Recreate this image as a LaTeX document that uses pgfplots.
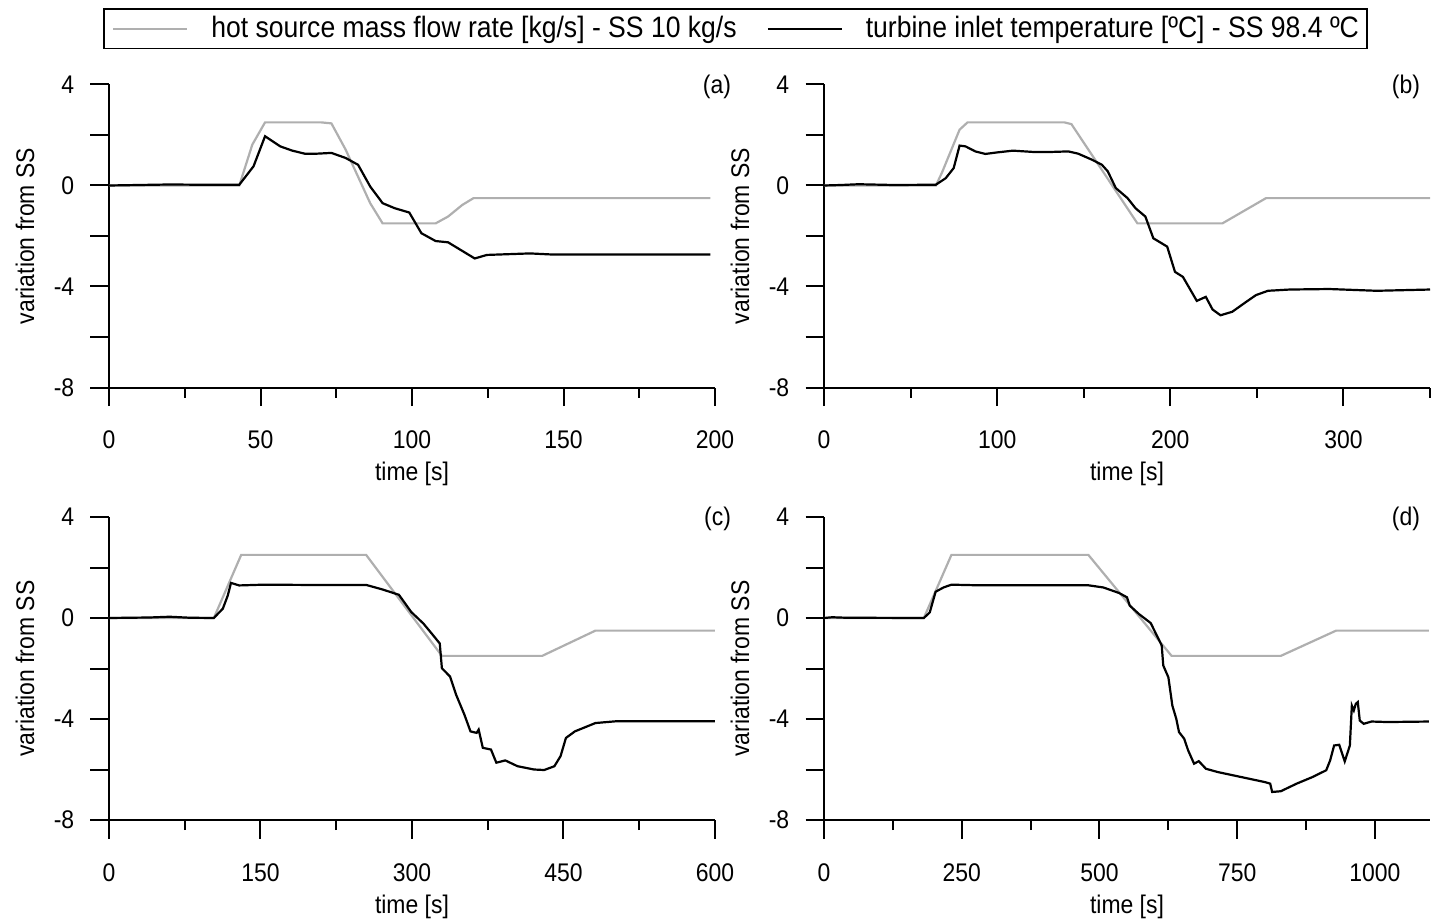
\documentclass[border=0pt]{standalone}
\usepackage{fontspec}
\setmainfont{Liberation Sans}[FakeStretch=0.9]
\usepackage{pgfplots}
\pgfplotsset{compat=1.18}
\definecolor{lgray}{RGB}{175,175,175}
\pgfplotsset{
  panel/.style={
    scale only axis, width=303pt, height=151.5pt,
    axis lines=left, axis line style={-, line width=1pt, black},
    tick align=outside, major tick length=9.25pt, minor tick length=5pt,
    every tick/.style={line width=1pt, black},
    ymin=-8, ymax=4, ytick={-8,-6,...,4}, yticklabels={-8,,-4,,0,,4},
    /pgf/number format/assume math mode=true,
    /pgf/number format/1000 sep={},
    tick label style={font=\fontsize{12.75}{14}\selectfont},
    xticklabel style={yshift=-9pt},
    yticklabel style={xshift=-4.6pt},
    label style={font=\fontsize{12.75}{14}\selectfont},
    xlabel={time [s]}, ylabel={variation from SS},
    xlabel style={at={(axis description cs:0.5,0)}, anchor=base, yshift=-46.5pt},
    ylabel style={at={(axis description cs:-0.1235,0.5)}, anchor=base},
    clip=false,
  },
  gline/.style={lgray, line width=1.1pt},
  bline/.style={black, line width=1.1pt},
}
\newcommand{\plab}[2]{\node[anchor=east, font=\fontsize{12.75}{14}\selectfont] at ([xshift=#2, yshift=-1pt]rel axis cs:1,1) {#1};}
\begin{document}
\begin{tikzpicture}
\path[use as bounding box] (0,0) rectangle (716.5pt,-459.5pt);
% (a)
\begin{axis}[panel, at={(54.5pt,-193.75pt)}, anchor=south west,
  xmin=0, xmax=200, xtick={0,50,...,200}, minor xtick={25,75,125,175},
  legend columns=2,
  legend image code/.code={\draw[#1] (0pt,0pt) -- (37pt,0pt);},
  legend style={at={(axis description cs:1.0339,1.1838)}, anchor=center,
    draw=black, line width=0.8pt, font=\fontsize{14.75}{16}\selectfont,
    inner xsep=4pt, inner ysep=3.8pt, nodes={inner sep=0pt},
    /tikz/every odd column/.append style={column sep=11.5pt},
    /tikz/every even column/.append style={column sep=15pt}},
]
\addplot[gline] coordinates {(0,0) (43,0) (47.3,1.62) (51.5,2.5) (70,2.5) (73.4,2.46) (78.1,1.42) (86.2,-0.7) (90.3,-1.5) (107.8,-1.5) (111.9,-1.23) (116.6,-0.77) (120.3,-0.5) (198.5,-0.5)};
\addlegendentry{hot source mass flow rate [kg/s] - SS 10 kg/s}
\addplot[bline] coordinates {(0,0) (10,0.02) (20,0.04) (30,0.03) (43,0.03) (47.7,0.76) (51.5,1.95) (56.5,1.55) (60.5,1.38) (64.6,1.26) (68.6,1.26) (73.4,1.29) (78.1,1.09) (82.2,0.82) (86.2,-0.04) (90.3,-0.7) (94.3,-0.9) (99.1,-1.07) (103.1,-1.89) (107.8,-2.2) (111.9,-2.25) (120.7,-2.89) (124.7,-2.75) (138.9,-2.69) (145.7,-2.73) (198.5,-2.73)};
\addlegendentry{turbine inlet temperature [ºC] - SS 98.4 ºC}
\plab{(a)}{11.5pt}
\end{axis}
% (b)
\begin{axis}[panel, at={(412pt,-193.75pt)}, anchor=south west,
  xmin=0, xmax=350, xtick={0,100,200,300}, minor xtick={50,150,250,350}]
\addplot[gline] coordinates {(0,0) (64.6,0) (68,0.49) (78.3,2.21) (82.9,2.5) (138.8,2.5) (142.9,2.43) (181,-1.5) (230.1,-1.5) (255.3,-0.5) (350,-0.5)};
\addplot[bline] coordinates {(0,0) (10,0.02) (20,0.05) (40,0.02) (64.6,0.03) (70.3,0.29) (74.9,0.69) (78.3,1.58) (81.7,1.55) (87.4,1.35) (93.2,1.25) (100,1.31) (109.1,1.38) (120.5,1.33) (132,1.33) (141.1,1.35) (146.8,1.26) (154.8,1.02) (160.5,0.82) (163.9,0.56) (168.5,-0.1) (175.3,-0.5) (179.9,-0.9) (185.6,-1.23) (190.2,-2.09) (198.2,-2.42) (202.7,-3.42) (207.3,-3.62) (215.3,-4.57) (220.5,-4.41) (224.4,-4.91) (229,-5.14) (235.8,-5.0) (243.8,-4.61) (249.5,-4.34) (256.4,-4.17) (269,-4.12) (291.8,-4.1) (319.2,-4.17) (350,-4.12)};
\plab{(b)}{-1.5pt}
\end{axis}
% (c)
\begin{axis}[panel, at={(54.5pt,-410pt)}, anchor=south west,
  xmin=0, xmax=600, xtick={0,150,...,600}, minor xtick={75,225,375,525}]
\addplot[gline] coordinates {(0,0) (103.8,0) (130.9,2.5) (254.6,2.5) (329.6,-1.5) (428.9,-1.5) (481.6,-0.5) (600,-0.5)};
\addplot[bline] coordinates {(0,0) (40,0.02) (60,0.05) (80,0.01) (103.8,0) (112.7,0.37) (117.6,0.89) (120.8,1.39) (128.9,1.29) (153.2,1.32) (193.8,1.31) (254.6,1.31) (270.8,1.13) (287,0.92) (291,0.7) (299.2,0.24) (311.3,-0.22) (319.4,-0.61) (327.5,-1.01) (329.6,-1.99) (337.7,-2.32) (343.7,-3.04) (351.9,-3.83) (357.9,-4.49) (364,-4.55) (366,-4.42) (370.1,-5.14) (378.2,-5.21) (383.5,-5.73) (392.4,-5.64) (404.5,-5.87) (420.8,-6.0) (430.9,-6.02) (441,-5.87) (447.1,-5.47) (452.4,-4.75) (461.3,-4.49) (481.6,-4.16) (501.9,-4.09) (538.4,-4.09) (600,-4.09)};
\plab{(c)}{11.5pt}
\end{axis}
% (d)
\begin{axis}[panel, at={(412pt,-410pt)}, anchor=south west,
  xmin=0, xmax=1100, xtick={0,250,...,1000}, minor xtick={125,375,625,875}]
\addplot[gline] coordinates {(0,0) (181.2,0) (231.3,2.5) (479.8,2.5) (630.9,-1.5) (829.2,-1.5) (929.5,-0.5) (1098,-0.5)};
\addplot[bline] coordinates {(0,0) (15,0.03) (40,0.01) (181.2,0) (191.9,0.22) (202.6,1.04) (217,1.21) (231.3,1.32) (270.7,1.3) (478.3,1.3) (507,1.21) (535.6,0.99) (549.9,0.82) (555,0.49) (571.5,0.16) (593,-0.2) (607.2,-0.83) (613,-1.09) (615.8,-1.88) (625.1,-2.35) (632.3,-3.47) (639.4,-3.99) (644.4,-4.52) (653.8,-4.78) (660.9,-5.24) (671.7,-5.77) (680.3,-5.67) (693.2,-5.97) (714.6,-6.1) (757.6,-6.3) (800.6,-6.5) (809.9,-6.56) (813.5,-6.89) (829.2,-6.86) (857.9,-6.56) (886.5,-6.3) (911.6,-6.03) (918.7,-5.64) (925.9,-5.05) (935.2,-5.02) (945.2,-5.68) (954.5,-5.05) (958.1,-3.47) (961.7,-3.66) (965.3,-3.4) (968.9,-3.33) (972.5,-4.06) (979.6,-4.19) (994,-4.1) (1022.6,-4.12) (1098,-4.1)};
\plab{(d)}{-1.5pt}
\end{axis}
\end{tikzpicture}
\end{document}
